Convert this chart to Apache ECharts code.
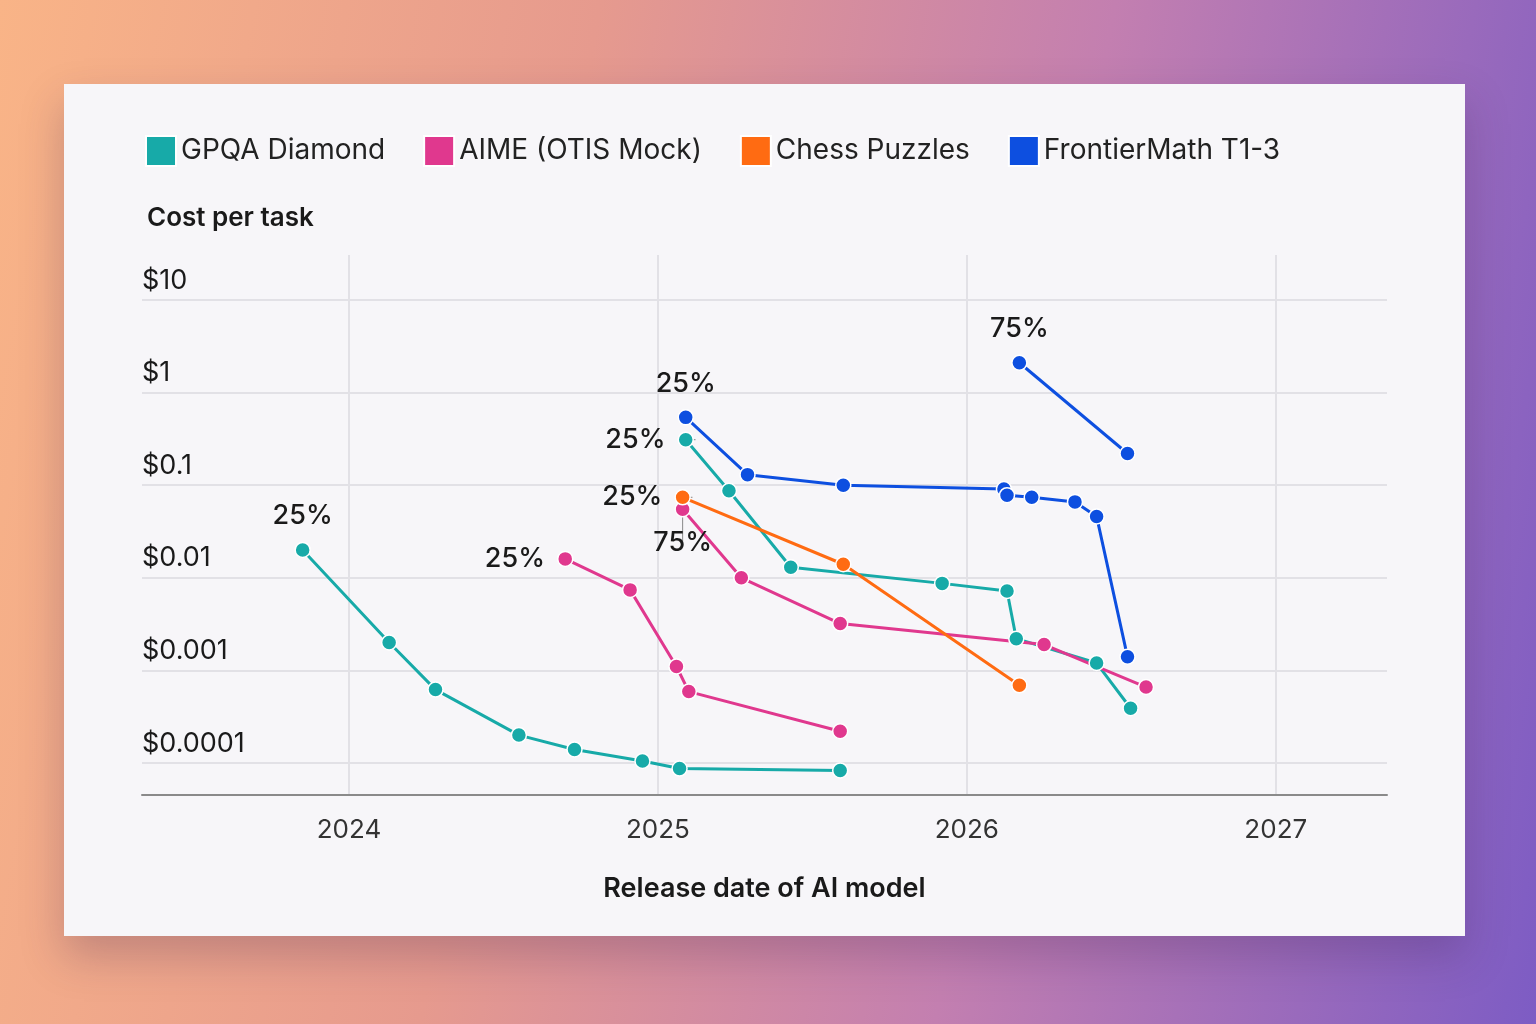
<!DOCTYPE html>
<html lang="en">
<head>
<meta charset="UTF-8">
<title>Cost per task</title>
<script src="https://cdn.jsdelivr.net/npm/echarts@6/dist/echarts.min.js"></script>
<style>
  html, body { margin: 0; padding: 0; }
  body {
    width: 1536px; height: 1024px; overflow: hidden;
    background: linear-gradient(100deg, #f9b487 0%, #e69a8e 35%, #c37fb0 65%, #7d5cc4 100%);
  }
  #card {
    position: absolute; left: 64px; top: 84px; width: 1401px; height: 852px;
    background: #f7f6f9; box-shadow: 0 20px 40px rgba(60, 30, 80, 0.25);
  }
  #main { width: 1401px; height: 852px; }
</style>
</head>
<body>
<div id="card"><div id="main"></div></div>
<script>
// release date (decimal year) and cost per task in dollars
let gpqaA_x = [2023.85, 2024.13, 2024.28, 2024.55, 2024.73, 2024.95, 2025.07, 2025.59];
let gpqaA_y = [0.02, 0.002, 0.00062, 0.0002, 0.00014, 0.000105, 0.000087, 0.000083];
let gpqaB_x = [2025.09, 2025.23, 2025.43, 2025.92, 2026.13, 2026.16, 2026.42, 2026.53];
let gpqaB_y = [0.31, 0.087, 0.013, 0.0087, 0.0072, 0.0022, 0.0012, 0.00039];
let aimeA_x = [2024.70, 2024.91, 2025.06, 2025.10, 2025.59];
let aimeA_y = [0.016, 0.0074, 0.0011, 0.00059, 0.00022];
let aimeB_x = [2025.08, 2025.27, 2025.59, 2026.25, 2026.58];
let aimeB_y = [0.055, 0.010, 0.0032, 0.0019, 0.00066];
let chess_x = [2025.08, 2025.60, 2026.17];
let chess_y = [0.074, 0.014, 0.00069];
let fmA_x = [2025.09, 2025.29, 2025.60, 2026.12, 2026.13, 2026.21, 2026.35, 2026.42, 2026.52];
let fmA_y = [0.54, 0.13, 0.10, 0.091, 0.078, 0.074, 0.066, 0.046, 0.0014];
let fmB_x = [2026.17, 2026.52];
let fmB_y = [2.1, 0.22];

let yearTicks = [2024, 2025, 2026, 2027];
let costTicks = [0.0001, 0.001, 0.01, 0.1, 1, 10];

let colors = {
  gpqa: '#17aaa8',
  aime: '#e0388e',
  chess: '#ff6b12',
  fm: '#0d4fe0'
};

function pairs(xs, ys) {
  return xs.map(function (x, i) { return [x, ys[i]]; });
}

// put a text label on the first point of a line
function firstLabel(data, text, pos, layout) {
  data[0] = {
    value: data[0],
    label: { show: true, formatter: text, position: pos, distance: 12 },
    labelLayout: layout || null,
    labelLine: { show: !!layout, lineStyle: { color: '#888', width: 1 } }
  };
  return data;
}

function lineSeries(name, color, data) {
  return {
    name: name,
    type: 'line',
    data: data,
    symbol: 'circle',
    symbolSize: 15,
    showSymbol: true,
    lineStyle: { width: 3, color: color },
    itemStyle: { color: color, borderColor: '#fff', borderWidth: 1.5 },
    label: { fontSize: 27, fontFamily: 'Inter', fontWeight: 500, color: '#1a1a1a' },
    emphasis: { disabled: true },
    z: 3
  };
}

let myChart = echarts.init(document.getElementById('main'));

let option = {
  animation: false,
  textStyle: { fontFamily: 'Inter' },
  color: [colors.gpqa, colors.aime, colors.chess, colors.fm],
  legend: {
    left: 76, top: 46,
    itemWidth: 30, itemHeight: 30, itemGap: 38,
    icon: 'rect',
    textStyle: { fontSize: 28, color: '#222', fontFamily: 'Inter' },
    data: ['GPQA Diamond', 'AIME (OTIS Mock)', 'Chess Puzzles', 'FrontierMath T1-3']
  },
  title: {
    text: 'Cost per task',
    left: 78, top: 116,
    textStyle: { fontSize: 26, fontWeight: 600, color: '#1a1a1a', fontFamily: 'Inter' }
  },
  grid: { left: 78, right: 78, top: 171, bottom: 141 },
  xAxis: {
    type: 'value',
    min: 2023.33, max: 2027.36,
    name: 'Release date of AI model',
    nameLocation: 'middle', nameGap: 80,
    nameTextStyle: { fontSize: 27, fontWeight: 600, color: '#1a1a1a' },
    axisLine: { lineStyle: { color: '#8a8a8a', width: 2 } },
    axisTick: { show: false, customValues: yearTicks },
    axisLabel: { customValues: yearTicks, fontSize: 26, color: '#333', margin: 22,
      formatter: function (v) { return String(v); } },
    splitLine: { show: true, lineStyle: { color: '#e2e1e6', width: 2 } }
  },
  yAxis: {
    type: 'log',
    min: Math.pow(10, -4.346), max: Math.pow(10, 1.486),
    axisLine: { show: false },
    axisTick: { show: false, customValues: costTicks },
    axisLabel: {
      customValues: costTicks,
      inside: true, margin: 0, verticalAlign: 'bottom', padding: [0, 0, 6, 0],
      fontSize: 27, color: '#1a1a1a',
      formatter: function (v) { return '$' + v; }
    },
    splitLine: { show: true, lineStyle: { color: '#e2e1e6', width: 2 } }
  },
  series: [
    lineSeries('GPQA Diamond', colors.gpqa, firstLabel(pairs(gpqaA_x, gpqaA_y), '25%', 'top')),
    lineSeries('GPQA Diamond', colors.gpqa, firstLabel(pairs(gpqaB_x, gpqaB_y), '25%', 'left', { dx: -40 })),
    lineSeries('AIME (OTIS Mock)', colors.aime, firstLabel(pairs(aimeA_x, aimeA_y), '25%', 'left')),
    lineSeries('AIME (OTIS Mock)', colors.aime, firstLabel(pairs(aimeB_x, aimeB_y), '75%', 'bottom', { dy: 42 })),
    lineSeries('Chess Puzzles', colors.chess, firstLabel(pairs(chess_x, chess_y), '25%', 'left', { dx: -40 })),
    lineSeries('FrontierMath T1-3', colors.fm, firstLabel(pairs(fmA_x, fmA_y), '25%', 'top')),
    lineSeries('FrontierMath T1-3', colors.fm, firstLabel(pairs(fmB_x, fmB_y), '75%', 'top'))
  ]
};
myChart.setOption(option);
</script>
</body>
</html>
